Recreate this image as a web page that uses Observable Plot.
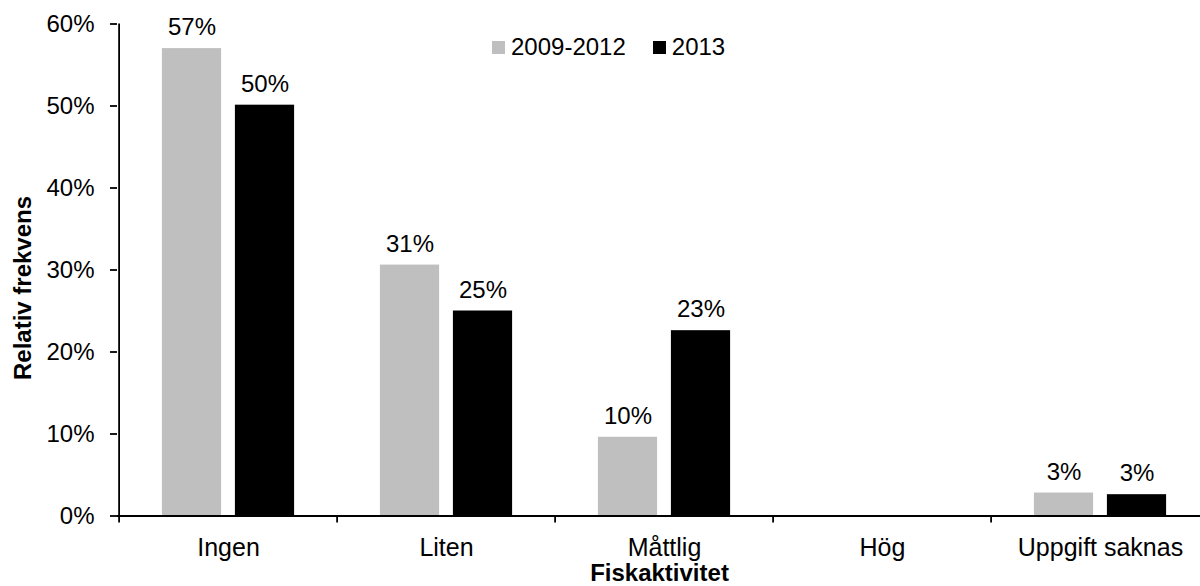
<!DOCTYPE html>
<html>
<head>
<meta charset="utf-8">
<script src="https://cdn.jsdelivr.net/npm/d3@7"></script>
<script src="https://cdn.jsdelivr.net/npm/@observablehq/plot@0.6"></script>
<style>
  html, body { margin: 0; padding: 0; background: #fff; overflow: hidden; }
  #wrap { position: relative; width: 1200px; height: 586px; font-family: "Liberation Sans", Arial, sans-serif; }
  #legend { position: absolute; left: 492px; top: 33px; display: flex; align-items: center; font-size: 24px; color: #000; }
  #legend .item { display: flex; align-items: center; margin-right: 27px; }
  #legend .sw { width: 13px; height: 13px; margin-right: 6px; }
</style>
</head>
<body>
<div id="wrap"></div>
<script>
// Fiskaktivitet categories and relative frequency per period
const categories = ["Ingen", "Liten", "Måttlig", "Hög", "Uppgift saknas"];
const series = ["2009-2012", "2013"];
const values2009_2012 = [0.570, 0.306, 0.096, null, 0.028];
const values2013 = [0.501, 0.250, 0.226, null, 0.026];
const seriesColors = ["#bfbfbf", "#000000"];
const yTicks = [0, 0.1, 0.2, 0.3, 0.4, 0.5, 0.6];

const pct = d3.format(".0%");
const rows = (values, s) => categories
  .map((c, i) => ({category: c, series: s, value: values[i]}))
  .filter(d => d.value != null);
const dataA = rows(values2009_2012, series[0]);
const dataB = rows(values2013, series[1]);

const width = 1200, height = 586;
const marginLeft = 117, marginRight = -11;
const band = (width - marginLeft - marginRight) / categories.length;
const barWidth = 60, barOffset = 36.5;
const inset = (band - barWidth) / 2;

const plot = Plot.plot({
  width, height,
  marginTop: 23.5, marginBottom: 70.5, marginLeft, marginRight,
  style: {fontFamily: "Liberation Sans, Arial, sans-serif", fontSize: "24px", color: "#000", background: "#fff"},
  x: {domain: categories, padding: 0},
  y: {domain: [0, 0.6]},
  marks: [
    // bars, one mark per period, side by side within each category
    Plot.barY(dataA, {x: "category", y: "value", fill: seriesColors[0], dx: -barOffset, insetLeft: inset, insetRight: inset}),
    Plot.barY(dataB, {x: "category", y: "value", fill: seriesColors[1], dx: barOffset, insetLeft: inset, insetRight: inset}),
    // value labels
    Plot.text(dataA, {x: "category", y: "value", text: d => pct(d.value), dx: -barOffset, dy: -13.5, lineAnchor: "bottom", fontSize: 24, fill: "#000"}),
    Plot.text(dataB, {x: "category", y: "value", text: d => pct(d.value), dx: barOffset, dy: -13.5, lineAnchor: "bottom", fontSize: 24, fill: "#000"}),
    // y axis
    Plot.axisY({ticks: yTicks, tickFormat: pct, tickSize: 7, tickPadding: 16, fontSize: 24, label: null, stroke: "#000", strokeWidth: 1.8}),
    Plot.ruleX([categories[0]], {x: d => d, dx: -band / 2, y1: 0, y2: 0.6, stroke: "#000", strokeWidth: 1.8}),
    // x axis: baseline, boundary ticks between categories, category names
    Plot.ruleY([0], {stroke: "#000", strokeWidth: 1.8}),
    Plot.axisX({tickSize: 7, dx: -band / 2, tickFormat: () => "", label: null, stroke: "#000", strokeWidth: 1.8}),
    Plot.axisX({tickSize: 0, tickPadding: 22, fontSize: 25, label: null}),
    // axis titles
    Plot.text(["Fiskaktivitet"], {frameAnchor: "bottom", dx: -5, dy: 65, lineAnchor: "bottom", fontWeight: "bold", fontSize: 24, fill: "#000"}),
    Plot.text(["Relativ frekvens"], {frameAnchor: "left", textAnchor: "middle", dx: -94, dy: 18, rotate: -90, fontWeight: "bold", fontSize: 24, fill: "#000"})
  ]
});

const wrap = document.getElementById("wrap");
wrap.appendChild(plot);

// legend drawn over the upper part of the plot area
const legend = document.createElement("div");
legend.id = "legend";
series.forEach((s, i) => {
  const item = document.createElement("div");
  item.className = "item";
  const sw = document.createElement("span");
  sw.className = "sw";
  sw.style.background = seriesColors[i];
  const label = document.createElement("span");
  label.textContent = s;
  item.appendChild(sw);
  item.appendChild(label);
  legend.appendChild(item);
});
wrap.appendChild(legend);
</script>
</body>
</html>
